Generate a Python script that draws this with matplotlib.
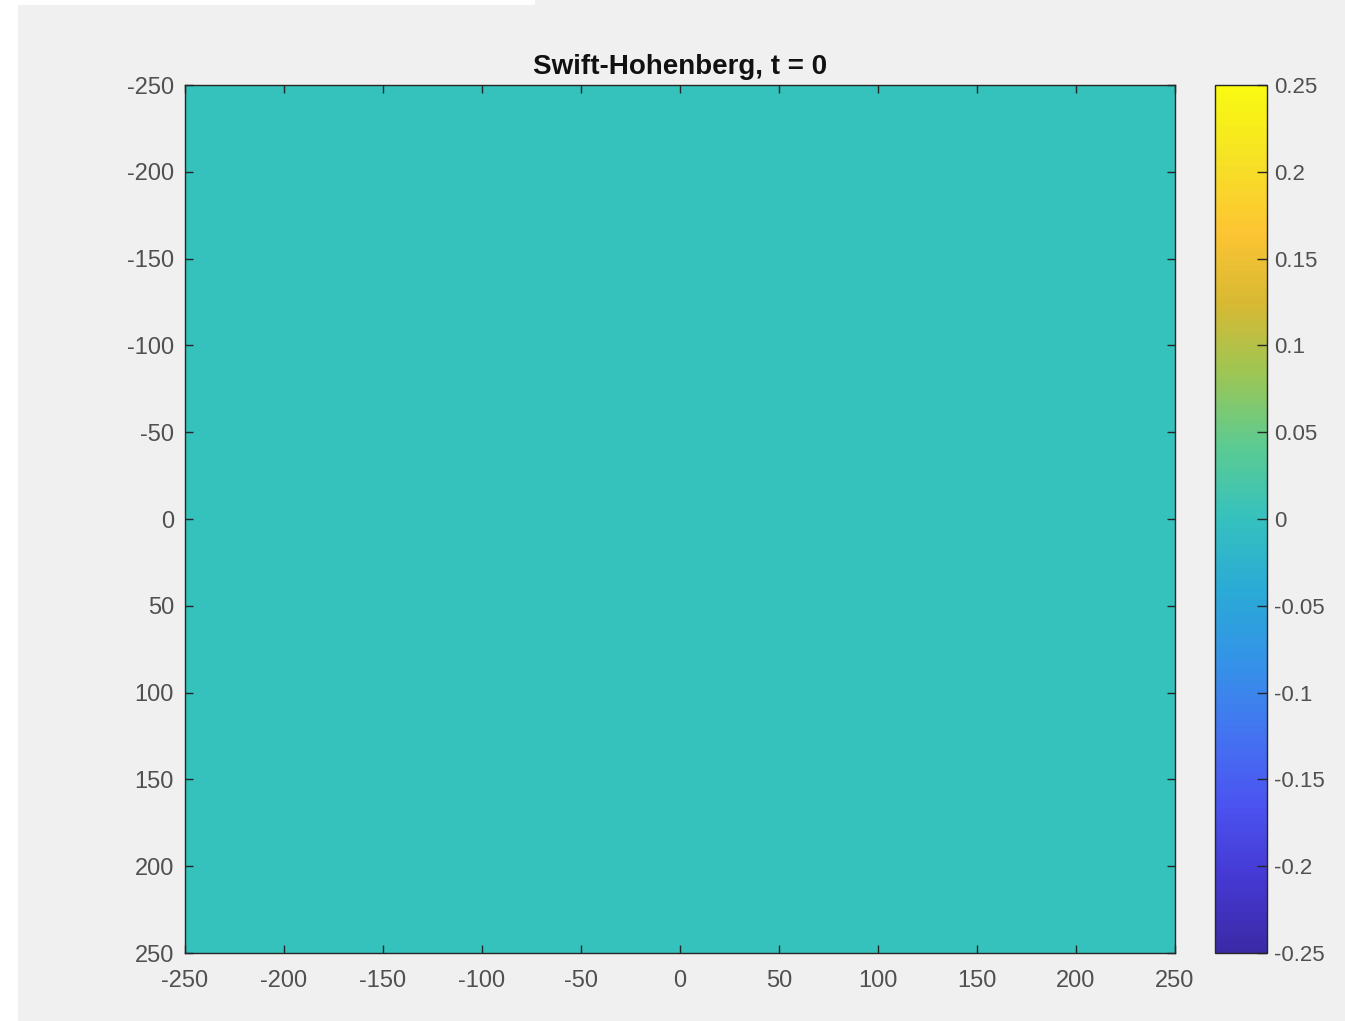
import matplotlib
matplotlib.use("Agg")
import matplotlib.pyplot as plt
from matplotlib.colors import LinearSegmentedColormap
from matplotlib.patches import Rectangle
import numpy as np

# Field state at t = 0 (flat initial condition on a 512 x 512 domain)
x_range = [-250, 250]
y_range = [-250, 250]
grid_n = 256
field_level = 0.0
clim = [-0.25, 0.25]

x_ticks = [-250, -200, -150, -100, -50, 0, 50, 100, 150, 200, 250]
y_ticks = [-250, -200, -150, -100, -50, 0, 50, 100, 150, 200, 250]
cbar_ticks = [-0.25, -0.2, -0.15, -0.1, -0.05, 0, 0.05, 0.1, 0.15, 0.2, 0.25]
cbar_labels = ["-0.25", "-0.2", "-0.15", "-0.1", "-0.05", "0",
               "0.05", "0.1", "0.15", "0.2", "0.25"]
title = "Swift-Hohenberg, t = 0"

# parula-like colormap
parula_colors = [
    "#3b2aa6", "#4538d2", "#4b52f0", "#4473f2", "#3592e8", "#2aaad6",
    "#35c1be", "#5bcb92", "#9cc655", "#d8b933", "#fdc533", "#f6e224",
    "#f9fa10",
]
parula = LinearSegmentedColormap.from_list("parula", parula_colors, N=256)

plt.rcParams["font.family"] = ["Liberation Sans", "DejaVu Sans"]
plt.rcParams["axes.unicode_minus"] = False

W, H = 1345, 1021
fig = plt.figure(figsize=(W / 100, H / 100), dpi=100, facecolor="white")

# grey window background
fig.patches.append(Rectangle((18 / W, 0), 1 - 18 / W, 1 - 5 / H,
                             transform=fig.transFigure, facecolor="#f0f0f0",
                             edgecolor="none", zorder=-10))
fig.patches.append(Rectangle((535 / W, 1 - 5 / H), 1 - 535 / W, 5 / H,
                             transform=fig.transFigure, facecolor="#f0f0f0",
                             edgecolor="none", zorder=-10))

ax = fig.add_axes([185 / W, 1 - 953 / H, (1175 - 185) / W, (953 - 85) / H])
cax = fig.add_axes([1215 / W, 1 - 953 / H, (1267 - 1215) / W, (953 - 85) / H])

field = np.full((grid_n, grid_n), field_level)
im = ax.imshow(field, cmap=parula, vmin=clim[0], vmax=clim[1],
               extent=[x_range[0], x_range[1], y_range[1], y_range[0]],
               aspect="auto", interpolation="nearest")

ax.set_xlim(x_range)
ax.set_ylim(y_range[1], y_range[0])
ax.set_xticks(x_ticks)
ax.set_yticks(y_ticks)
ax.tick_params(direction="in", length=6, width=1, colors="#262626",
               labelcolor="#505050", labelsize=17, top=True, right=True)
ax.tick_params(axis="x", pad=12)
ax.tick_params(axis="y", pad=8)
for s in ax.spines.values():
    s.set_color("#262626")
    s.set_linewidth(1)
ax.set_title(title, fontsize=20, fontweight="bold", color="#111111", pad=8)

cb = fig.colorbar(im, cax=cax, ticks=cbar_ticks)
cb.ax.set_yticklabels(cbar_labels)
cb.ax.tick_params(direction="in", length=7, width=1, colors="#262626",
                  labelcolor="#505050", labelsize=16, pad=5)
cb.outline.set_edgecolor("#262626")
cb.outline.set_linewidth(1)

fig.savefig("out.png", dpi=100, facecolor=fig.get_facecolor())
